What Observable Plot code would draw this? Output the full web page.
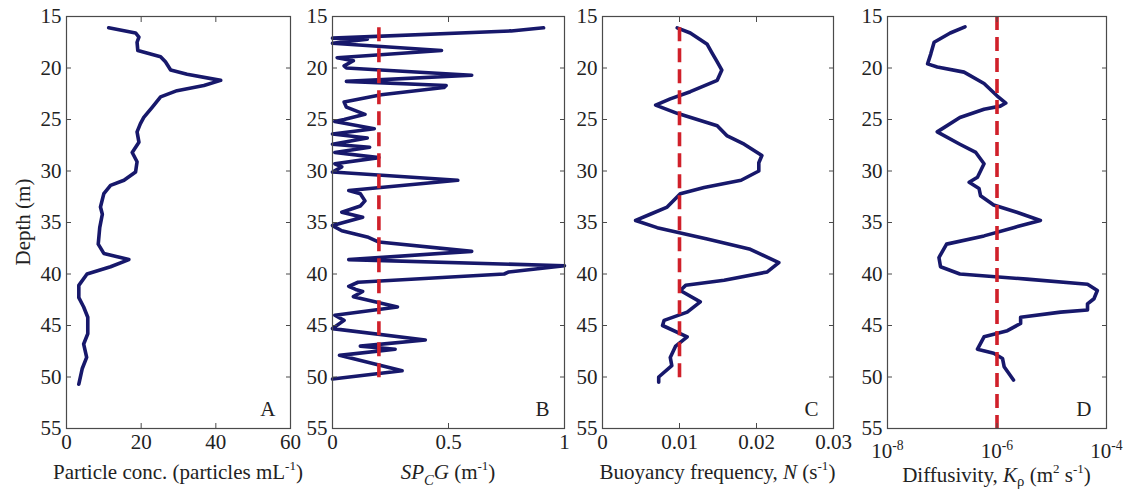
<!DOCTYPE html>
<html><head><meta charset="utf-8">
<script src="https://cdn.jsdelivr.net/npm/d3@7"></script>
<script src="https://cdn.jsdelivr.net/npm/@observablehq/plot@0.6"></script>
<style>
body{margin:0;background:#fff;}
#chart{position:relative;width:1127px;height:490px;}
#chart svg{position:absolute;top:0;overflow:visible;}
</style></head><body><div id="chart"></div>
<script>
// ---- data ----
const depthTicks = [15, 20, 25, 30, 35, 40, 45, 50, 55];

const depthA = [16.1,16.6,17.0,17.5,18.3,18.9,19.4,20.2,20.6,21.2,21.7,22.2,22.8,23.8,24.8,25.4,26.2,27.2,28.2,29.1,30.1,30.9,31.4,32.2,33.5,34.2,35.5,37.1,38.0,38.6,39.3,40.0,41.1,42.3,43.2,44.2,45.8,46.8,48.1,49.2,50.7];
const concA = [11.3,18.5,19.4,18.9,19.1,25.2,26.5,27.9,32.3,41.3,36.8,29.6,25.2,23.0,20.7,19.8,18.9,19.4,17.6,18.9,18.5,15.4,11.8,10.0,9.1,9.6,8.9,8.5,10.0,16.7,11.8,5.5,3.3,3.3,4.6,5.7,5.7,4.6,5.4,4.2,3.3];

const depthB = [16.1,16.4,17.1,17.2,17.6,18.3,19.0,19.3,19.8,20.0,20.7,21.3,21.7,21.9,22.6,23.3,23.8,24.5,25.0,25.2,25.9,26.4,26.8,27.4,27.7,28.2,28.7,29.3,29.6,30.1,30.9,31.9,32.2,32.9,33.4,34.0,34.5,35.3,35.8,36.4,36.9,37.8,38.6,39.2,39.8,40.0,40.8,41.2,41.5,41.7,42.2,43.2,44.0,44.5,45.3,46.4,47.0,47.3,47.9,49.4,50.2];
const spcgB = [0.91,0.77,0.0,0.15,0.0,0.47,0.02,0.09,0.05,0.06,0.60,0.06,0.49,0.48,0.21,0.05,0.06,0.14,0.05,0.01,0.18,0.0,0.15,0.0,0.16,0.01,0.20,0.01,0.04,0.0,0.54,0.07,0.12,0.14,0.12,0.04,0.13,0.0,0.04,0.15,0.20,0.60,0.07,1.0,0.76,0.74,0.11,0.07,0.10,0.13,0.09,0.28,0.01,0.05,0.0,0.40,0.12,0.27,0.03,0.30,0.0];
const spcgThreshold = 0.2;

const depthC = [16.1,16.6,17.7,18.5,19.4,20.2,21.2,22.3,23.0,23.6,24.4,25.6,26.6,27.4,28.5,29.2,30.0,30.9,31.6,32.2,33.5,34.2,34.8,35.5,36.6,37.6,38.9,39.8,40.6,41.1,41.6,42.7,43.7,44.5,45.0,46.1,47.0,48.1,48.9,50.0,50.5];
const nC = [0.0097,0.0114,0.0136,0.0142,0.0149,0.0155,0.0149,0.0114,0.0088,0.0069,0.0097,0.0149,0.0162,0.0184,0.0207,0.0203,0.0203,0.018,0.0132,0.0101,0.0084,0.0062,0.0043,0.0071,0.0136,0.0192,0.0229,0.0214,0.0158,0.0108,0.0101,0.0127,0.011,0.008,0.0078,0.011,0.0095,0.0088,0.009,0.0073,0.0073];
const nThreshold = 0.01;

const depthD = [16.0,16.6,17.5,18.6,19.6,19.9,20.4,21.5,22.7,23.4,23.7,24.0,24.8,26.2,27.4,28.2,29.3,30.6,31.1,31.7,32.4,33.3,34.0,34.8,35.5,36.3,37.1,38.4,39.3,40.0,40.5,41.0,41.6,42.4,42.9,43.5,43.7,44.2,44.8,45.5,46.1,47.3,47.7,48.2,49.0,50.3];
const kD = [2.6e-7,1.4e-7,7.1e-8,6.2e-8,5.4e-8,8.1e-8,2.5e-7,5.8e-7,1.0e-6,1.45e-6,1.15e-6,5.8e-7,2.1e-7,8.1e-8,2.1e-7,4.1e-7,5.8e-7,4.4e-7,3.1e-7,4.7e-7,5.0e-7,8.7e-7,2.3e-6,6.2e-6,2.0e-6,5.8e-7,1.2e-7,8.7e-8,9.3e-8,2.1e-7,3.5e-6,4.5e-5,6.8e-5,5.9e-5,4.5e-5,4.5e-5,1.45e-5,2.7e-6,2.7e-6,1.55e-6,5.8e-7,4.4e-7,8.7e-7,1.26e-6,1.35e-6,2.0e-6];
const kThreshold = 1e-6;

const ticksA = [0, 20, 40, 60], tickLabelsA = ["0", "20", "40", "60"];
const ticksB = [0, 0.5, 1], tickLabelsB = ["0", "0.5", "1"];
const ticksC = [0, 0.01, 0.02, 0.03], tickLabelsC = ["0", "0.01", "0.02", "0.03"];
const ticksD = [1e-8, 1e-6, 1e-4], tickExpD = ["-8", "-6", "-4"];

// ---- styling ----
const FONT = "Liberation Serif, Times New Roman, serif";
const FS = 21;
const NAVY = "#17186b";
const RED = "#d0202a";
const FRAME = "#4a4a4a";
const TXT = "#222";

const chart = document.getElementById("chart");
const ML = 50, MR = 25, MT = 16, MB = 62, H = 490;

function rich(svg, x, y, parts, opts = {}) {
  const t = d3.select(svg).append("text")
    .attr("x", x).attr("y", y)
    .attr("text-anchor", "middle")
    .attr("fill", TXT)
    .attr("font-family", FONT)
    .attr("font-size", FS);
  if (opts.rotate) t.attr("transform", `rotate(-90 ${x} ${y})`);
  let cur = 0;
  for (const p of parts) {
    const s = t.append("tspan").text(p.t);
    let off = 0, fs = null;
    if (p.sup) { off = -0.42 * FS; fs = FS * 0.62; }
    if (p.sub) { off = (p.sub === true ? 0.3 : p.sub) * FS; fs = FS * 0.7; }
    if (off !== cur) { s.attr("dy", off - cur); cur = off; }
    if (fs) s.attr("font-size", fs);
    if (p.i) s.attr("font-style", "italic");
  }
  return t;
}

function panel({left, right, x, ticks, tickFormat, tickPadding = 6, labelY = 479, marks, letter, label, depthLabel}) {
  const fw = right - left;
  const svg = Plot.plot({
    width: ML + fw + MR,
    height: H,
    marginLeft: ML, marginRight: MR, marginTop: MT, marginBottom: MB,
    style: {background: "transparent", overflow: "visible", fontFamily: FONT, fontSize: FS + "px", color: TXT},
    x: {...x, label: null},
    y: {domain: [15, 55], reverse: true, label: null},
    marks: [
      ...marks,
      Plot.frame({stroke: FRAME, strokeWidth: 1.2}),
      Plot.axisY({anchor: "left", ticks: depthTicks, tickSize: 0, tickPadding: 5, label: null, fontSize: FS}),
      Plot.axisY({anchor: "left", ticks: depthTicks, tickSize: 5, dx: 5, tickFormat: () => "", label: null, stroke: FRAME}),
      Plot.axisY({anchor: "right", ticks: depthTicks, tickSize: 5, dx: -5, tickFormat: () => "", label: null, stroke: FRAME}),
      Plot.axisX({anchor: "bottom", ticks, tickSize: 0, tickPadding, tickFormat, label: null, fontSize: FS}),
      Plot.axisX({anchor: "bottom", ticks, tickSize: 5, dy: -5, tickFormat: () => "", label: null, stroke: FRAME}),
      Plot.axisX({anchor: "top", ticks, tickSize: 5, dy: 5, tickFormat: () => "", label: null, stroke: FRAME}),
      Plot.text([letter], {text: d => d, frameAnchor: "bottom-right", dx: -15, dy: -13, lineAnchor: "bottom", fontSize: FS, fill: TXT})
    ]
  });
  svg.style.left = (left - ML) + "px";
  chart.appendChild(svg);
  rich(svg, ML + fw / 2, labelY, label);
  if (depthLabel) rich(svg, ML - 36, MT + 206, [{t: "Depth (m)"}], {rotate: true});
  return svg;
}

const lineStyle = {stroke: NAVY, strokeWidth: 3.6, strokeLinejoin: "round", strokeLinecap: "round"};
const dashStyle = {stroke: RED, strokeWidth: 3.6, strokeDasharray: "14,7"};

panel({
  left: 66, right: 290,
  x: {domain: [0, 60]},
  ticks: ticksA, tickFormat: d => tickLabelsA[ticksA.indexOf(d)],
  marks: [Plot.line(depthA, {x: (d, i) => concA[i], y: d => d, ...lineStyle})],
  letter: "A",
  label: [{t: "Particle conc. (particles mL"}, {t: "-1", sup: true}, {t: ")"}],
  depthLabel: true
});

panel({
  left: 332, right: 564,
  x: {domain: [0, 1]},
  ticks: ticksB, tickFormat: d => tickLabelsB[ticksB.indexOf(d)],
  marks: [
    Plot.line(depthB, {x: (d, i) => spcgB[i], y: d => d, ...lineStyle}),
    Plot.ruleX([spcgThreshold], {y1: 16.1, y2: 50.5, ...dashStyle})
  ],
  letter: "B",
  label: [{t: "SP", i: true}, {t: "C", i: true, sub: true}, {t: "G", i: true}, {t: " (m"}, {t: "-1", sup: true}, {t: ")"}]
});

panel({
  left: 602, right: 833,
  x: {domain: [0, 0.03]},
  ticks: ticksC, tickFormat: d => tickLabelsC[ticksC.indexOf(d)],
  marks: [
    Plot.line(depthC, {x: (d, i) => nC[i], y: d => d, ...lineStyle}),
    Plot.ruleX([nThreshold], {y1: 16.1, y2: 50.5, ...dashStyle})
  ],
  letter: "C",
  label: [{t: "Buoyancy frequency, "}, {t: "N", i: true}, {t: " (s"}, {t: "-1", sup: true}, {t: ")"}]
});

const svgD = panel({
  left: 887, right: 1106,
  x: {type: "log", domain: [1e-8, 1e-4]},
  ticks: ticksD, tickFormat: d => "10^" + tickExpD[ticksD.indexOf(d)],
  tickPadding: 15,
  labelY: 482,
  marks: [
    Plot.line(depthD, {x: (d, i) => kD[i], y: d => d, ...lineStyle}),
    Plot.ruleX([kThreshold], {...dashStyle})
  ],
  letter: "D",
  label: [{t: "Diffusivity, "}, {t: "K", i: true}, {t: "ρ", sub: 0.18}, {t: " (m"}, {t: "2", sup: true}, {t: " s"}, {t: "-1", sup: true}, {t: ")"}]
});

// superscript exponents on the log axis tick labels
d3.select(svgD).selectAll("text").each(function () {
  const s = this.textContent;
  if (/^10\^/.test(s)) {
    const exp = s.slice(3);
    const el = d3.select(this);
    el.text(null);
    el.append("tspan").text("10");
    el.append("tspan").attr("dy", -0.42 * FS).attr("font-size", FS * 0.65).text(exp);
  }
});
</script></body></html>
